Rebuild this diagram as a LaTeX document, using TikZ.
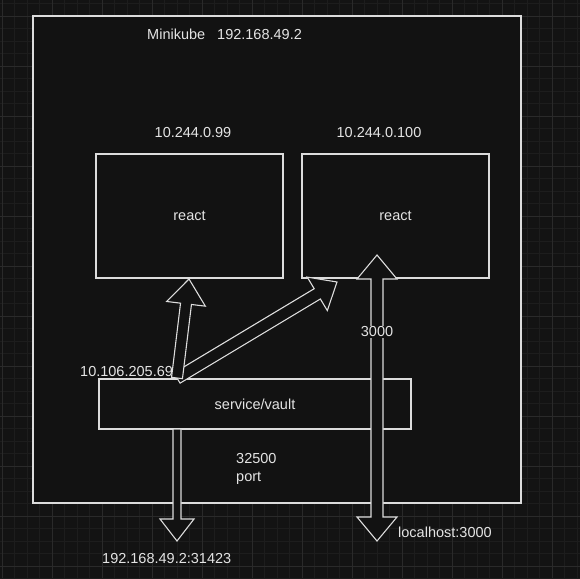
\documentclass[tikz,border=0pt]{standalone}
\usepackage{fontspec}
\setmainfont{Liberation Sans}
\usetikzlibrary{calc}
\definecolor{bgc}{HTML}{131313}
\definecolor{boxc}{HTML}{121212}
\definecolor{gridminor}{HTML}{1D1D1D}
\definecolor{gridmajor}{HTML}{2A2A2A}
\definecolor{linec}{HTML}{DCDCDC}
\definecolor{textc}{HTML}{E4E4E4}
\newcommand\flexone[5]{%
  \coordinate (fh) at ($(#2)!#5!(#1)$);
  \path[flexarrow] ($(#1)!#3!90:(#2)$) -- ($(fh)!#3!90:(#2)$) -- ($(fh)!#4!90:(#2)$) -- (#2)
    -- ($(fh)!#4!-90:(#2)$) -- ($(fh)!#3!-90:(#2)$) -- ($(#1)!#3!-90:(#2)$) -- cycle;
}
\newcommand\flextwo[5]{%
  \coordinate (fa) at ($(#1)!#5!(#2)$);
  \coordinate (fb) at ($(#2)!#5!(#1)$);
  \path[flexarrow] (#1) -- ($(fa)!#4!90:(#2)$) -- ($(fa)!#3!90:(#2)$) -- ($(fb)!#3!90:(#2)$)
    -- ($(fb)!#4!90:(#2)$) -- (#2) -- ($(fb)!#4!-90:(#2)$) -- ($(fb)!#3!-90:(#2)$)
    -- ($(fa)!#3!-90:(#2)$) -- ($(fa)!#4!-90:(#2)$) -- cycle;
}
\begin{document}
\begin{tikzpicture}[x=1pt,y=-1pt,
  every node/.style={font=\fontsize{14.5}{16}\selectfont, text=textc, inner sep=0pt},
  box/.style={draw=linec, line width=1.2pt, fill=boxc, inner sep=0pt},
  flexarrow/.style={draw=linec, line width=1.1pt, fill=boxc, line join=miter},
  lbl/.style={anchor=base west}]
\useasboundingbox (0,0) rectangle (580,578);
\fill[bgc] (0,0) rectangle (580,578);
\foreach \i in {-1,...,46} {
  \draw[gridminor, line width=0.8pt] ({2+12.5*\i},0) -- ({2+12.5*\i},578);
  \draw[gridminor, line width=0.8pt] (0,{16+12.5*\i}) -- (580,{16+12.5*\i});
}
\foreach \i in {0,...,11} {
  \draw[gridmajor, line width=0.9pt] ({2+50*\i},0) -- ({2+50*\i},578);
}
\foreach \i in {0,...,11} {
  \draw[gridmajor, line width=0.9pt] (0,{16+50*\i}) -- (580,{16+50*\i});
}
% boxes
\node[box, minimum width=488pt, minimum height=487pt] (mk) at (277,259.5) {};
\node[lbl] (mkname) at (147,40) {Minikube};
\node[lbl] (mkip) at (217,40) {192.168.49.2};
\node[box, minimum width=187pt, minimum height=124pt] (reactL) at (189.5,216) {react};
\node[box, minimum width=187pt, minimum height=124pt] (reactR) at (395.5,216) {react};
\node[anchor=base] (ipL) at (193,137) {10.244.0.99};
\node[anchor=base] (ipR) at (379,137) {10.244.0.100};
\node[box, minimum width=312pt, minimum height=50pt] (svc) at (255,404) {service/vault};
\node[lbl] (svcip) at (80,376) {10.106.205.69};
\node[lbl] (port1) at (236,463) {32500};
\node[lbl] (port2) at (236,481) {port};
\node[lbl] (ext) at (102,563) {192.168.49.2:31423};
\node[lbl] (local) at (398,537) {localhost:3000};
% connector end points
\coordinate (svcTail) at (177,378);
\coordinate (tipL) at (189,279);
\coordinate (tipR) at (337,282);
\coordinate (svcBottom) at (177,429);
\coordinate (extTip) at (177,541);
\coordinate (podTop) at (377,255);
\coordinate (localTip) at (377,541);
% arrows
\flexone{svcTail}{tipR}{6pt}{19.5pt}{23pt}
\flexone{svcTail}{tipL}{5.5pt}{19.5pt}{25pt}
\flexone{svcBottom}{extTip}{4pt}{17pt}{22pt}
\flextwo{podTop}{localTip}{6pt}{20pt}{24pt}
\node[fill=boxc, inner sep=1pt] (p3000) at (377,332) {3000};
\end{tikzpicture}
\end{document}
